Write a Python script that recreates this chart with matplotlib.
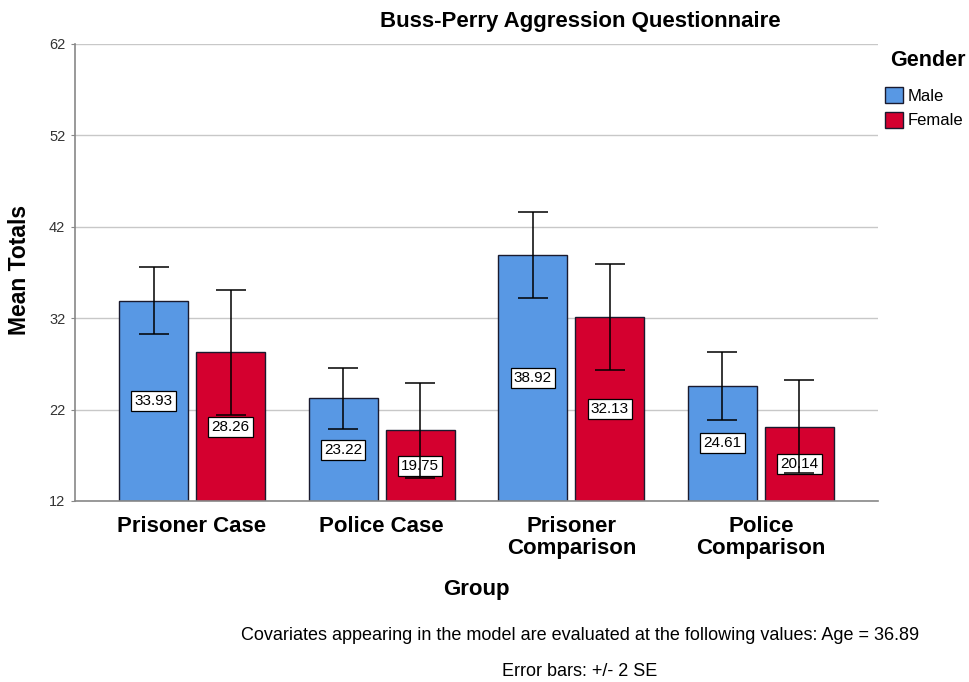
import matplotlib
matplotlib.use("Agg")
import matplotlib.pyplot as plt
import numpy as np
from matplotlib.patches import Patch

plt.rcParams['font.family'] = ['Liberation Sans', 'DejaVu Sans']

groups = ["Prisoner Case", "Police Case", "Prisoner\nComparison", "Police\nComparison"]
male_means = [33.93, 23.22, 38.92, 24.61]
female_means = [28.26, 19.75, 32.13, 20.14]
male_err = [3.7, 3.3, 4.7, 3.7]
female_err = [6.8, 5.2, 5.8, 5.1]
yticks = [12, 22, 32, 42, 52, 62]

blue = "#5898E4"
red = "#D4002F"
base = 12

fig = plt.figure(figsize=(9.69, 6.82), dpi=100)
ax = fig.add_axes([75/969, 1-501/682, (878-75)/969, (501-44)/682])

x = np.arange(len(groups))
w = 0.364
off = 0.203
for vals, errs, col, sgn in [(male_means, male_err, blue, -1), (female_means, female_err, red, 1)]:
    xs = x + sgn*off
    heights = [v - base for v in vals]
    ax.bar(xs, heights, width=w, bottom=base, color=col, edgecolor="#1a1a2e", linewidth=1.0, zorder=2)
    ax.errorbar(xs, vals, yerr=errs, fmt='none', ecolor='black', elinewidth=1.1, capsize=11, capthick=1.1, zorder=4)
    for xi, v in zip(xs, vals):
        ax.text(xi, (base+v)/2, f"{v:.2f}", ha='center', va='center', fontsize=11, zorder=3,
                bbox=dict(boxstyle='square,pad=0.2', fc='white', ec='black', lw=0.9))

ax.set_ylim(12, 62)
ax.set_xlim(-0.617, 3.617)
ax.set_yticks(yticks)
ax.set_yticklabels([str(t) for t in yticks], fontsize=10.5, color='#333333')
ax.set_xticks(x)
ax.set_xticklabels(groups, fontsize=16, fontweight='bold', linespacing=1.05)
ax.tick_params(axis='x', length=0, pad=11)
ax.tick_params(axis='y', length=3, color='#888888', pad=4)
ax.yaxis.grid(True, color='#c8c8c8', linewidth=1.0, zorder=0)
ax.set_axisbelow(True)
for s in ['top', 'right']:
    ax.spines[s].set_visible(False)
ax.spines['left'].set_color('#888888')
ax.spines['bottom'].set_color('#888888')
ax.spines['left'].set_linewidth(1.2)
ax.spines['bottom'].set_linewidth(1.2)

fig.text(20/969, 1-270/682, "Mean Totals", rotation=90, ha='center', va='center', fontsize=16.5, fontweight='bold')
fig.text(476/969, 1-590/682, "Group", ha='center', va='center', fontsize=16, fontweight='bold')
fig.text(580/969, 1-22/682, "Buss-Perry Aggression Questionnaire", ha='center', va='center', fontsize=16, fontweight='bold')
fig.text(580/969, 1-635/682, "Covariates appearing in the model are evaluated at the following values: Age = 36.89",
         ha='center', va='center', fontsize=13)
fig.text(580/969, 1-672/682, "Error bars: +/- 2 SE", ha='center', va='center', fontsize=13)

fig.text(928/969, 1-60/682, "Gender", ha='center', va='center', fontsize=15.5, fontweight='bold')
handles = [Patch(facecolor=blue, edgecolor='#1a1a2e', label='Male'),
           Patch(facecolor=red, edgecolor='#1a1a2e', label='Female')]
leg = fig.legend(handles=handles, loc='upper left', bbox_to_anchor=(882/969, 1-84/682),
                 frameon=False, fontsize=12, handlelength=1.05, handleheight=1.1, handletextpad=0.3,
                 labelspacing=0.45, borderpad=0.2, borderaxespad=0)

fig.savefig("out.png", dpi=100)
